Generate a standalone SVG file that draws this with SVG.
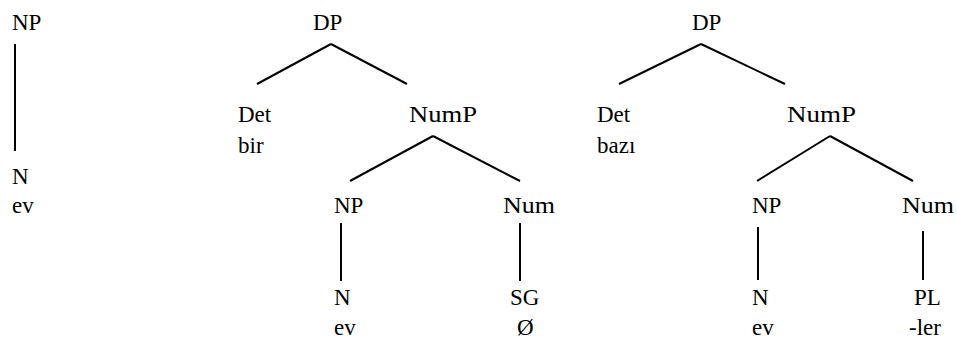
<svg xmlns="http://www.w3.org/2000/svg" width="957" height="339" viewBox="0 0 957 339">
<style>
.e line{stroke:#000;stroke-width:2;stroke-linecap:butt}
</style>
<rect width="957" height="339" fill="#fff"/>
<g class="e" id="connectors">
<line x1="15" y1="44" x2="15" y2="151"/>
<line x1="331" y1="44" x2="257" y2="84"/>
<line x1="331" y1="44" x2="407" y2="84"/>
<line x1="433" y1="136" x2="350" y2="181"/>
<line x1="433" y1="136" x2="520" y2="181"/>
<line x1="341" y1="223" x2="341" y2="281"/>
<line x1="520" y1="223" x2="520" y2="281"/>
<line x1="701" y1="44" x2="619" y2="84"/>
<line x1="701" y1="44" x2="785" y2="84"/>
<line x1="830" y1="136" x2="757" y2="181"/>
<line x1="830" y1="136" x2="913" y2="181"/>
<line x1="758" y1="227" x2="758" y2="280"/>
<line x1="923" y1="231" x2="923" y2="280"/>
</g>
<g id="labels" font-family="Liberation Serif, DejaVu Serif, serif" font-size="23" fill="#000">
<g id="t1-np"><text x="12" y="30">NP</text></g>
<g id="t1-n"><text x="12" y="184">N</text><text x="12" y="213">ev</text></g>
<g id="t2-dp"><text x="313" y="30">DP</text></g>
<g id="t2-det"><text x="238" y="122">Det</text><text x="238" y="153">bir</text></g>
<g id="t2-nump"><text x="409" y="122" textLength="68" lengthAdjust="spacingAndGlyphs">NumP</text></g>
<g id="t2-np"><text x="334" y="213">NP</text></g>
<g id="t2-num"><text x="503" y="213" textLength="52" lengthAdjust="spacingAndGlyphs">Num</text></g>
<g id="t2-n"><text x="334" y="305">N</text><text x="334" y="335">ev</text></g>
<g id="t2-sg"><text x="510" y="305">SG</text><text x="517" y="335">Ø</text></g>
<g id="t3-dp"><text x="692" y="30">DP</text></g>
<g id="t3-det"><text x="597" y="122">Det</text><text x="597" y="153">bazı</text></g>
<g id="t3-nump"><text x="787" y="122" textLength="69" lengthAdjust="spacingAndGlyphs">NumP</text></g>
<g id="t3-np"><text x="752" y="213">NP</text></g>
<g id="t3-num"><text x="902" y="213" textLength="52" lengthAdjust="spacingAndGlyphs">Num</text></g>
<g id="t3-n"><text x="752" y="305">N</text><text x="752" y="335">ev</text></g>
<g id="t3-pl"><text x="914" y="305">PL</text><text x="909" y="335">-ler</text></g>
</g>
</svg>
